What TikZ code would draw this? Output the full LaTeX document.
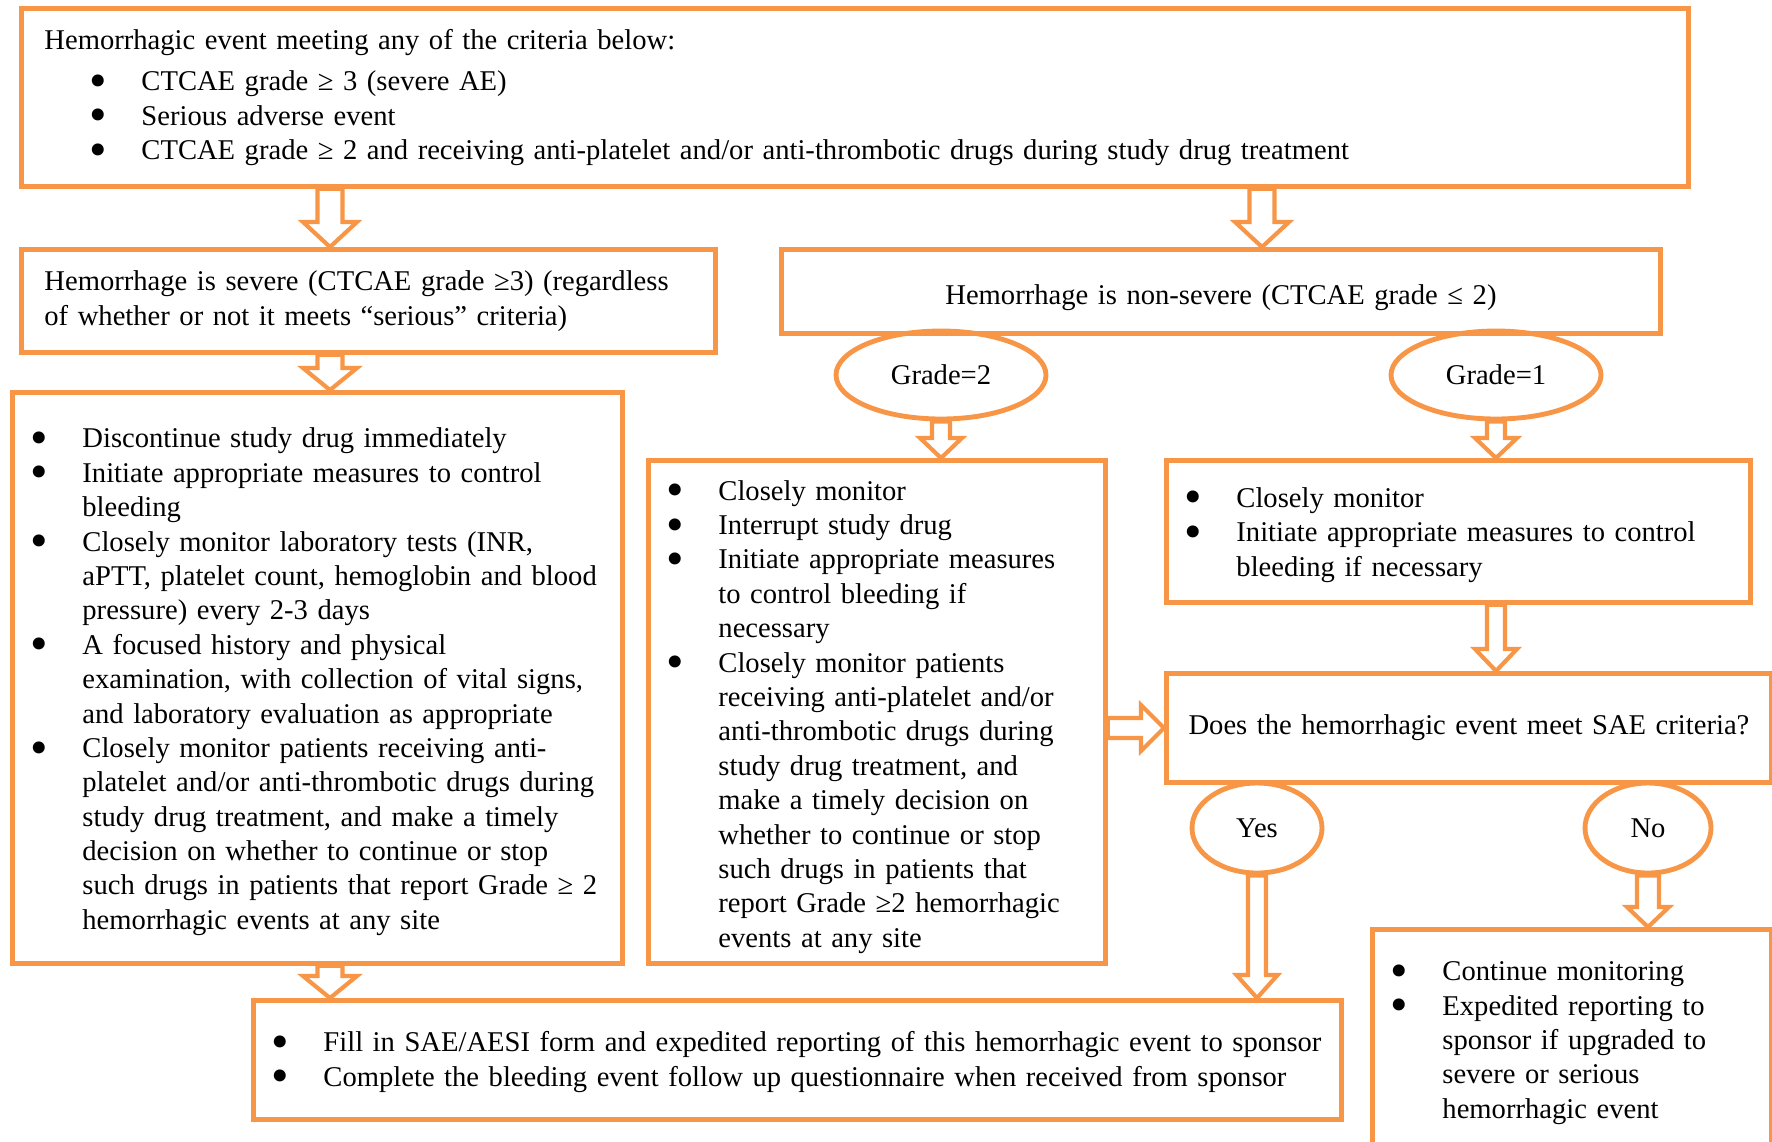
\documentclass[tikz,border=0pt]{standalone}
\usepackage{fontspec}
\usepackage{graphicx}
\setmainfont{Liberation Serif}
\usetikzlibrary{positioning, shapes.geometric, calc}
\definecolor{edge}{HTML}{F79646}
\newlength\unitpx
\setlength\unitpx{0.41pt}
\newlength\bulgap
\setlength\bulgap{52\unitpx}
\setlength\parindent{0pt}
\newcommand\bul{\smash{\raisebox{-2.7pt}{\scalebox{1.75}{\textbullet}}}}
\newcommand\litem[1]{\par\noindent\hangindent=\bulgap\hangafter=1\makebox[\bulgap][l]{\bul}{\def\\{\newline}#1}\par}

\begin{document}
\begin{tikzpicture}[
  x=0.41pt, y=-0.41pt,
  font=\fontsize{11.73}{14.1}\selectfont,
  box/.style 2 args={draw=edge, line width=2pt, anchor=north west, inner sep=0pt, align=left,
    minimum width=#1\unitpx, text width=#1\unitpx, minimum height=#2\unitpx},
  oval/.style 2 args={ellipse, draw=edge, line width=2pt, inner sep=0pt,
    minimum width=#1\unitpx, minimum height=#2\unitpx},
  hollow/.style n args={3}{draw=edge, line width=1.7pt,
    to path={let \p1=(\tikztostart), \p2=(\tikztotarget),
      \n1={atan2(\y2-\y1,\x2-\x1)}, \n2={veclen(\x2-\x1,\y2-\y1)} in
      ($(\p1)+(\n1+90:#1*0.41pt)$)
      -- ($(\p1)+(\n1:\n2-#3*0.41pt)+(\n1+90:#1*0.41pt)$)
      -- ($(\p1)+(\n1:\n2-#3*0.41pt)+(\n1+90:#2*0.41pt)$)
      -- (\p2)
      -- ($(\p1)+(\n1:\n2-#3*0.41pt)+(\n1-90:#2*0.41pt)$)
      -- ($(\p1)+(\n1:\n2-#3*0.41pt)+(\n1-90:#1*0.41pt)$)
      -- ($(\p1)+(\n1-90:#1*0.41pt)$) -- cycle}}
]
  \useasboundingbox (0,0) rectangle (1772,1141);
  \clip (0,0) rectangle (1772,1141);
  \coordinate (colL) at (330,0);
  \coordinate (colR) at (1262,0);

  % Row 1 — entry criteria
  \node[box={1667}{178}] (top) at (19,6) {\leftskip=23\unitpx
    Hemorrhagic event meeting any of the criteria below:\par
    \leftskip=68\unitpx\vspace{3pt}
    \litem{CTCAE grade ≥ 3 (severe AE)}
    \litem{Serious adverse event}
    \litem{CTCAE grade ≥ 2 and receiving anti-platelet and/or anti-thrombotic drugs during study drug treatment}};

  % Row 2 — severity split
  \node[box={694}{103}] (sev) at (19,247) {\leftskip=23\unitpx
    Hemorrhage is severe (CTCAE grade ≥3) (regardless\\of whether or not it meets “serious” criteria)\par};
  \node[box={879}{84}, align=center] (nonsev) at (779,247) {\rule{0pt}{13.2pt}Hemorrhage is non-severe (CTCAE grade ≤ 2)};
  \node[oval={210}{88}] (g2) at (941,375) {Grade=2};
  \node[oval={210}{88}] (g1) at (1496,375) {Grade=1};

  % Row 3 — actions
  \node[box={610}{571}] (lbox) at (10,390) {\leftskip=18\unitpx
    \litem{Discontinue study drug immediately}
    \litem{Initiate appropriate measures to control\\bleeding}
    \litem{Closely monitor laboratory tests (INR,\\aPTT, platelet count, hemoglobin and blood\\pressure) every 2-3 days}
    \litem{A focused history and physical\\examination, with collection of vital signs,\\and laboratory evaluation as appropriate}
    \litem{Closely monitor patients receiving anti-\\platelet and/or anti-thrombotic drugs during\\study drug treatment, and make a timely\\decision on whether to continue or stop\\such drugs in patients that report Grade ≥ 2\\hemorrhagic events at any site}
    \kern2.8pt};
  \node[box={457}{503}] (mbox) at (646,458) {\leftskip=18\unitpx
    \litem{Closely monitor}
    \litem{Interrupt study drug}
    \litem{Initiate appropriate measures\\to control bleeding if\\necessary}
    \litem{Closely monitor patients\\receiving anti-platelet and/or\\anti-thrombotic drugs during\\study drug treatment, and\\make a timely decision on\\whether to continue or stop\\such drugs in patients that\\report Grade ≥2 hemorrhagic\\events at any site}
    \kern1.9pt};
  \node[box={584}{142}] (g1box) at (1164,458) {\leftskip=18\unitpx
    \litem{Closely monitor}
    \litem{Initiate appropriate measures to control\\bleeding if necessary}
    \kern3.2pt};

  % Row 4 — SAE decision
  \node[box={605}{109}, align=center] (sae) at (1164,671) {Does the hemorrhagic event meet SAE criteria?};
  \node[oval={130}{90}] (yes) at (1257,828) {Yes};
  \node[oval={126}{90}] (no) at (1648,828) {No};

  % Row 5 — reporting
  \node[box={1088}{119}] (report) at (251,998) {\leftskip=18\unitpx
    \litem{Fill in SAE/AESI form and expedited reporting of this hemorrhagic event to sponsor}
    \litem{Complete the bleeding event follow up questionnaire when received from sponsor}
    \kern4.2pt};
  \node[box={399}{223}] (monitor) at (1370,927) {\leftskip=18\unitpx
    \litem{Continue monitoring}
    \litem{Expedited reporting to\\sponsor if upgraded to\\severe or serious\\hemorrhagic event}
    \kern4.6pt};

  % arrows
  \draw[hollow={12.5}{27}{25}] (colL |- top.south) to (colL |- sev.north);
  \draw[hollow={12.5}{27}{25}] (colR |- top.south) to (colR |- nonsev.north);
  \draw[hollow={12.5}{27}{22}] (colL |- sev.south) to (colL |- lbox.north);
  \draw[hollow={9}{21}{20}] (g2.south) to (g2.south |- mbox.north);
  \draw[hollow={9}{21}{20}] (g1.south) to (g1.south |- g1box.north);
  \draw[hollow={9}{21}{22}] (g1.south |- g1box.south) to (g1.south |- sae.north);
  \draw[hollow={10}{23}{23}] (mbox.east |- sae.west) to (sae.west);
  \draw[hollow={9}{20.5}{23}] (yes.south) to (yes.south |- report.north);
  \draw[hollow={11}{21}{20}] (no.south) to (no.south |- monitor.north);
  \draw[hollow={12.5}{27}{22}] (colL |- lbox.south) to (colL |- report.north);
\end{tikzpicture}
\end{document}
